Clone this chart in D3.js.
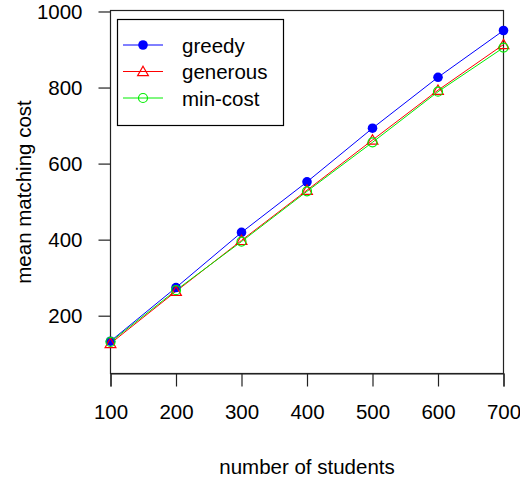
<!DOCTYPE html>
<html>
<head>
<meta charset="utf-8">
<script src="https://cdn.jsdelivr.net/npm/d3@7"></script>
<style>
  html, body { margin: 0; padding: 0; background: #fff; }
  svg { display: block; }
  text { font-family: "Liberation Sans", Arial, sans-serif; fill: #000; }
</style>
</head>
<body>
<svg id="chart" width="520" height="481"></svg>
<script>
const students = [100, 200, 300, 400, 500, 600, 700];
const greedy   = [133, 274, 419, 552, 693, 827, 950];
const generous = [127, 264, 398, 530, 662, 793, 913];
const minCost  = [131, 267, 395, 527, 656, 789, 905];
const xTicks = [100, 200, 300, 400, 500, 600, 700];
const yTicks = [200, 400, 600, 800, 1000];
const seriesNames = ["greedy", "generous", "min-cost"];
const seriesColors = ["#0000ff", "#ff0000", "#00ee00"];

(function () {
const svg = d3.select("#chart");
const pL = 110.5, pR = 503.5, pT = 10.5, pB = 373.5;
const x = d3.scaleLinear().domain([100, 700]).range([pL, pR]);
const y = d3.scaleLinear().domain([48, 1002.6]).range([pB, pT]);
const fs = 20.5;

// box
svg.append("rect").attr("x", pL).attr("y", pT)
  .attr("width", pR - pL).attr("height", pB - pT)
  .attr("fill", "none").attr("stroke", "#222").attr("stroke-width", 1.2);

// x axis
const xAxis = svg.append("g").attr("transform", `translate(0,${pB})`)
  .call(d3.axisBottom(x).tickValues(xTicks).tickSize(13).tickPadding(18).tickFormat(d3.format("d")));
xAxis.select(".domain").attr("stroke", "#222").attr("stroke-width", 1.2);
xAxis.selectAll(".tick line").attr("stroke", "#222").attr("stroke-width", 1.2);
xAxis.selectAll("text").attr("font-size", fs).attr("font-family", "Liberation Sans, Arial, sans-serif").attr("fill", "#000");

// y axis
const yAxis = svg.append("g").attr("transform", `translate(${pL},0)`)
  .call(d3.axisLeft(y).tickValues(yTicks).tickSize(12).tickPadding(16).tickFormat(d3.format("d")));
yAxis.select(".domain").remove();
yAxis.selectAll(".tick line").attr("stroke", "#222").attr("stroke-width", 1.2);
yAxis.selectAll("text").attr("font-size", fs).attr("font-family", "Liberation Sans, Arial, sans-serif").attr("fill", "#000");

// axis titles
svg.append("text").attr("x", (pL + pR) / 2).attr("y", 474)
  .attr("text-anchor", "middle").attr("font-size", fs).text("number of students");
svg.append("text").attr("transform", `translate(31,${(pT + pB) / 2}) rotate(-90)`)
  .attr("text-anchor", "middle").attr("font-size", fs).text("mean matching cost");

const data = [greedy, generous, minCost];
const line = d3.line().x((d, i) => x(students[i])).y(d => y(d));
const tri = d3.symbol().type(d3.symbolTriangle).size(50);

function marker(g, k, cx, cy) {
  if (k === 0) {
    g.append("circle").attr("cx", cx).attr("cy", cy).attr("r", 4.8).attr("fill", seriesColors[0]);
  } else if (k === 1) {
    g.append("path").attr("d", tri).attr("transform", `translate(${cx},${cy + 1})`)
      .attr("fill", "none").attr("stroke", seriesColors[1]).attr("stroke-width", 1.2);
  } else {
    g.append("circle").attr("cx", cx).attr("cy", cy).attr("r", 4.5)
      .attr("fill", "none").attr("stroke", seriesColors[2]).attr("stroke-width", 1.2);
  }
}

const plot = svg.append("g");
data.forEach((vals, k) => {
  plot.append("path").datum(vals).attr("d", line)
    .attr("fill", "none").attr("stroke", seriesColors[k]).attr("stroke-width", 1);
});
data.forEach((vals, k) => {
  vals.forEach((v, i) => marker(plot, k, x(students[i]), y(v)));
});

// legend
const lg = svg.append("g");
lg.append("rect").attr("x", 117.5).attr("y", 19.5).attr("width", 166).attr("height", 106)
  .attr("fill", "#fff").attr("stroke", "#000").attr("stroke-width", 1.2);
seriesNames.forEach((name, k) => {
  const ly = 45 + k * 26.5;
  lg.append("line").attr("x1", 123).attr("x2", 163).attr("y1", ly).attr("y2", ly)
    .attr("stroke", seriesColors[k]).attr("stroke-width", 1);
  marker(lg, k, 143, ly);
  lg.append("text").attr("x", 182).attr("y", ly + 7.5).attr("font-size", fs).text(name);
});
})();
</script>
</body>
</html>
